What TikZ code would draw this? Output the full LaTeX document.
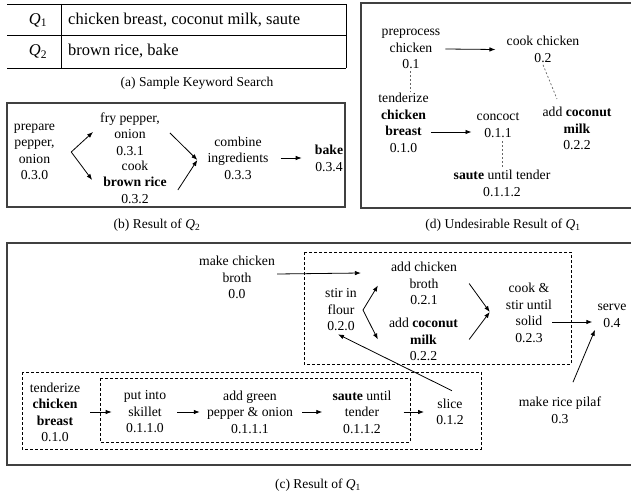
\documentclass[tikz,border=0pt]{standalone}
\usepackage{fontspec}
\setmainfont{Liberation Serif}
\usetikzlibrary{arrows.meta,calc}
\begin{document}
\begin{tikzpicture}[x=1pt,y=-1pt,
  lbl/.style={align=center,inner sep=0pt,font=\fontsize{13.7}{16.5}\selectfont},
  captxt/.style={inner sep=0pt,font=\fontsize{13.5}{16}\selectfont},
  tbl/.style={inner sep=0pt,font=\fontsize{16.5}{19}\selectfont},
  arr/.style={-{Latex[length=6pt,width=4.5pt]},line width=0.8pt},
  frame/.style={draw=black!75,line width=1.1pt},
  grp/.style={draw,line width=0.7pt,dash pattern=on 3pt off 2pt},
  dsh/.style={draw=black!60,line width=0.7pt,dash pattern=on 2pt off 2pt},
  tline/.style={line width=0.9pt}]
\useasboundingbox (0,0) rectangle (631,492);

% (a) table
\draw[tline] (7,4) -- (346,4) (7,35.5) -- (346,35.5) (7,68) -- (346,68)
  (61,4) -- (61,68) (346,4) -- (346,68);
\node[tbl] (q1) at (38,20) {\textit{Q}\textsubscript{1}};
\node[tbl,anchor=west] (k1) at (68,20) {chicken breast, coconut milk, saute};
\node[tbl] (q2) at (38,51.5) {\textit{Q}\textsubscript{2}};
\node[tbl,anchor=west] (k2) at (68,51.5) {brown rice, bake};
\node[captxt] (capa) at (197,83) {(a) Sample Keyword Search};

% (b)
\draw[frame] (7,103) rectangle (345,207);
\node[lbl] (prep) at (34.5,152) {prepare\\pepper,\\onion\\0.3.0};
\node[lbl] (fry) at (130,134) {fry pepper,\\onion\\0.3.1};
\node[lbl] (cookbr) at (135,182) {cook\\\textbf{brown rice}\\0.3.2};
\node[lbl] (comb) at (238,158) {combine\\ingredients\\0.3.3};
\node[lbl] (bake) at (329,158.5) {\textbf{bake}\\0.3.4};
\coordinate (bfork) at ($(prep.east)+(16,0)$);
\draw[arr] (bfork) -- ($(fry.west)+(-7,-2)$);
\draw[arr] (bfork) -- ($(cookbr.west)+(-11,-2)$);
\coordinate (bjoin) at ($(comb.west)+(-10,2)$);
\draw[arr] ($(fry.east)+(10,-1)$) -- (bjoin);
\draw[arr] ($(cookbr.east)+(11,8)$) -- (bjoin);
\draw[arr] ($(comb.east)+(12,0)$) -- ($(bake.west)+(-13,-0.5)$);
\node[captxt] (capb) at (157,225) {(b) Result of \textit{Q}\textsubscript{2}};

% (d)
\draw[frame] (361,3) rectangle (632,208);
\node[lbl] (pre) at (411,49) {preprocess\\chicken\\0.1};
\node[lbl] (cookch) at (543,49.5) {cook chicken\\0.2};
\node[lbl] (tend) at (403.5,123) {tenderize\\\textbf{chicken}\\\textbf{breast}\\0.1.0};
\node[lbl] (conc) at (498,125) {concoct\\0.1.1};
\node[lbl] (sau) at (502,183.5) {\textbf{saute} until tender\\0.1.1.2};
\node[lbl] (addc) at (577,128.5) {add \textbf{coconut}\\\textbf{milk}\\0.2.2};
\draw[arr] ($(pre.east)+(5,0)$) -- ($(cookch.west)+(-11,0)$);
\draw[dsh] ($(pre.south)+(-1,2)$) -- ($(tend.north)+(6.5,-1)$);
\draw[arr] ($(tend.east)+(2,9)$) -- ($(conc.west)+(-5,7)$);
\draw[dsh] ($(conc.south)+(4,4)$) -- ($(sau.north)+(0,-1)$);
\draw[dsh] ($(cookch.south)+(0,2)$) -- ($(addc.north)+(-20,-8)$);
\node[captxt] (capd) at (503,225) {(d) Undesirable Result of \textit{Q}\textsubscript{1}};

% (c)
\draw[frame] (7,243) rectangle (632,465);
\draw[grp] (304,252) rectangle (571,364);
\draw[grp] (22,372) rectangle (481,449);
\draw[grp] (100,378) rectangle (410,442);
\node[lbl] (mcb) at (237,277.5) {make chicken\\broth\\0.0};
\node[lbl] (stir) at (341,310) {stir in\\flour\\0.2.0};
\node[lbl] (acb) at (424,283.5) {add chicken\\broth\\0.2.1};
\node[lbl] (acm) at (423.5,339.5) {add \textbf{coconut}\\\textbf{milk}\\0.2.2};
\node[lbl] (cook) at (529,313) {cook \&\\stir until\\solid\\0.2.3};
\node[lbl] (serve) at (612,316) {serve\\0.4};
\node[lbl] (pilaf) at (560,410.5) {make rice pilaf\\0.3};
\node[lbl] (tend2) at (55,412.5) {tenderize\\\textbf{chicken}\\\textbf{breast}\\0.1.0};
\node[lbl] (pis) at (145,412) {put into\\skillet\\0.1.1.0};
\node[lbl] (agp) at (250,412) {add green\\pepper \& onion\\0.1.1.1};
\node[lbl] (sut) at (362,412) {\textbf{saute} until\\tender\\0.1.1.2};
\node[lbl] (slice) at (450,412) {slice\\0.1.2};

\draw[arr] ($(mcb.east)+(2,-3.5)$) -- ($(acb.west)+(-30,-10.5)$);
\coordinate (cfork) at ($(stir.east)+(6,0)$);
\draw[arr] (cfork) -- ($(acb.west)+(-13,2)$);
\draw[arr] (cfork) -- ($(acm.west)+(-11,0)$);
\coordinate (cjoin) at ($(cook.west)+(-16,-1)$);
\draw[arr] ($(acb.east)+(12,0)$) -- (cjoin);
\draw[arr] ($(acm.east)+(11,0)$) -- (cjoin);
\draw[arr] ($(cook.east)+(0,9)$) -- ($(serve.west)+(-5,6)$);
\draw[arr] ($(pilaf.north)+(13,-15)$) -- ($(serve.south)+(-17,2)$);
\draw[arr] ($(slice.north)+(2,-8)$) -- ($(stir.south)+(-3,3)$);
\draw[arr,shorten <=10pt,shorten >=12pt] (tend2.east |- pis) -- (pis.west);
\draw[arr,shorten <=11pt,shorten >=7pt] (pis.east) -- (agp.west);
\draw[arr,shorten <=9pt,shorten >=10pt] (agp.east) -- (sut.west);
\draw[arr,shorten <=12pt,shorten >=12pt] (sut.east) -- (slice.west);
\node[captxt] (capc) at (318,485) {(c) Result of \textit{Q}\textsubscript{1}};
\end{tikzpicture}
\end{document}
